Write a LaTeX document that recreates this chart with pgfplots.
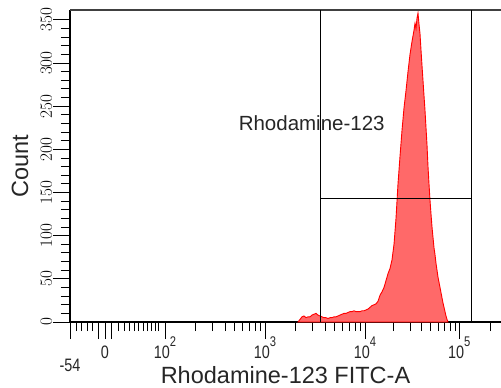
\documentclass[border=0pt]{standalone}
\usepackage{pgfplots}
\pgfplotsset{compat=1.18}
\usepackage{fontspec}
\setmainfont{Liberation Sans}
\newfontfamily\tickfont[FakeStretch=0.8]{Liberation Sans}
\newcommand\tf{\tickfont\fontsize{18bp}{18bp}\selectfont}
\newcommand\pw[1]{10\smash{\raisebox{12bp}{\fontsize{14bp}{14bp}\selectfont #1}}}
\definecolor{histfill}{RGB}{255,105,105}
\pgfplotstableread{
x y
298 0
300 3
302 6
304 7
306 5
308 6
310 6
312 8
314 9
316 10
318 8
320 7
322 6
324 5
326 5
328 4
330 5
332 5
334 6
336 6
338 7
340 8
342 9
344 10
346 10
348 11
350 12
352 12
354 13
356 12
358 12
360 12
362 13
364 13
366 14
368 15
370 17
372 19
374 20
376 21
378 24
380 31
382 35
384 40
386 48
388 56
390 62
392 72
394 90
396 120
397 140
398 160
400 192
402 222
404 248
406 268
408 290
410 310
412 325
414 338
415 346
416 340
417 352
418 358
419 345
420 334
421 315
422 297
424 262
425 245
426 225
427 205
428 180
429 160
430 141
431 125
432 110
433 98
434 86
435 78
436 68
437 60
438 52
439 46
440 40
441 34
442 28
443 22
444 17
445 12
446 7
447 3
448 0
}\histdata
\begin{document}
\begin{tikzpicture}
\path[use as bounding box] (0bp,0bp) rectangle (501bp,388bp);
\begin{axis}[
  at={(70bp,66bp)}, anchor=south west,
  scale only axis, width=431bp, height=312bp,
  xmin=70, xmax=501, ymin=0, ymax=361.5,
  axis x line=bottom, axis y line=left,
  axis line style={-, line width=1.2bp, black},
  tick align=outside,
  major tick length=17bp, minor tick length=9bp,
  every tick/.style={black, line width=1bp},
  xtick={105,165,265,365,459.3},
  xticklabels={\tf 0,\tf\pw{2},\tf\pw{3},\tf\pw{4},\tf\pw{5}},
  xticklabel style={yshift=-3bp, text=black!85},
  minor xtick={76,81.7,87.3,92.7,118.3,124,129.3,134,138.7,143.3,147.3,151.7,155,158.3,195.1,212.7,225.2,234.9,242.8,249.5,255.3,260.4,295.1,312.7,325.2,334.9,342.8,349.5,355.3,360.4,393.4,410,421.8,430.9,438.4,444.7,450.2,455,490},
  extra x ticks={70,98.3,111.7},
  extra x tick labels={\tf -54,,},
  extra x tick style={tick label style={yshift=-13.5bp}},
  ytick={0,50,...,350},
  minor y tick num=4,
  yticklabel style={rotate=90, anchor=south, font=\tf, inner sep=1bp, text=black},
  xlabel={Rhodamine-123 FITC-A},
  ylabel={Count},
  xlabel style={font=\fontsize{23.5bp}{26bp}\selectfont, text=black!85, at={(axis description cs:0.5,-0.170)}, anchor=center},
  ylabel style={font=\fontsize{23.5bp}{26bp}\selectfont, text=black!85, at={(axis description cs:-0.116,0.5)}, anchor=center, rotate=0},
  clip=false,
]
\addplot[draw=red, line width=0.9bp, fill=histfill] table[x=x,y=y] {\histdata} \closedcycle;
\draw[line width=1.5bp, black!75] (rel axis cs:0,1) -- (rel axis cs:1,1);
\draw[line width=1bp, black] (axis cs:320,0) -- (axis cs:320,361.5);
\draw[line width=1bp, black] (axis cs:471.7,0) -- (axis cs:471.7,361.5);
\draw[line width=1bp, black] (axis cs:320,143.4) -- (axis cs:471.7,143.4);
\node[font=\fontsize{20.5bp}{24bp}\selectfont, text=black!85] at (axis cs:311.7,230.6) {Rhodamine-123};
\end{axis}
\end{tikzpicture}
\end{document}
